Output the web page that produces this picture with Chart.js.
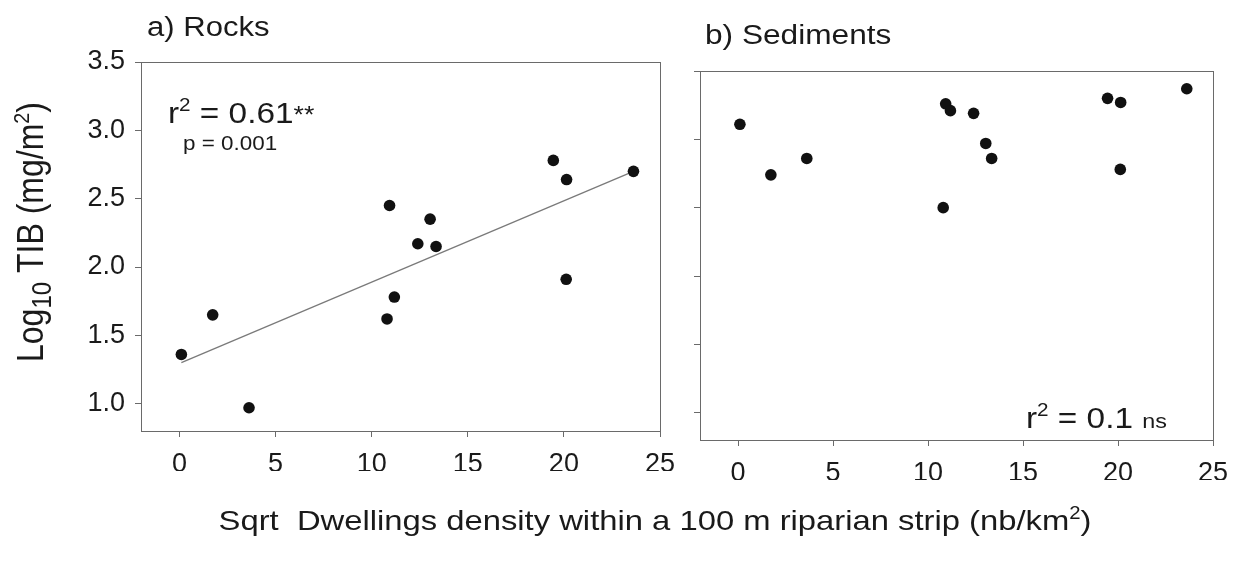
<!DOCTYPE html>
<html>
<head>
<meta charset="utf-8">
<script src="https://cdn.jsdelivr.net/npm/chart.js@4.4.1/dist/chart.umd.min.js"></script>
<style>
  html, body { margin: 0; padding: 0; background: #ffffff; }
  #wrap { position: relative; width: 1242px; height: 561px; overflow: hidden; background: #fff; }
  canvas { position: absolute; left: 0; top: 0; }
</style>
</head>
<body>
<div id="wrap">
  <canvas id="rocks" width="1242" height="561"></canvas>
  <canvas id="sediments" width="1242" height="561"></canvas>
</div>
<script>
// ---- data ----
const sqrtDwellingDensity = [0.1, 1.73, 3.62, 10.8, 10.93, 11.18, 12.4, 13.04, 13.35, 19.45, 20.12, 20.14, 23.62];
const log10TibRocks       = [1.36, 1.65, 0.97, 1.62, 2.45, 1.78, 2.17, 2.35, 2.15, 2.78, 1.91, 2.64, 2.70];
const log10TibSediments   = [3.11, 2.74, 2.86, 2.50, 3.26, 3.21, 3.19, 2.97, 2.86, 3.30, 2.78, 3.27, 3.37];
const rocksFitX = [0.1, 23.62];
const rocksFitY = [1.30, 2.70];
const xTickValues = [0, 5, 10, 15, 20, 25];
const yTickValues = [1.0, 1.5, 2.0, 2.5, 3.0, 3.5];
const xRange = [-2, 25];
const yRange = [0.8, 3.5];

const FONT = "'Liberation Sans', Arial, Helvetica, sans-serif";
const INK = '#1a1a1a';
const AXIS = '#6a6a6a';
const SX = 1.15; // horizontal stretch of the scanned lettering

Chart.defaults.font.family = FONT;
Chart.defaults.color = INK;

function pts(xs, ys) { return xs.map((x, i) => ({ x: x, y: ys[i] })); }

// draw text made of parts (normal / superscript / subscript)
function richWidth(ctx, parts, size) {
  let w = 0;
  parts.forEach(p => {
    const s = p.sup || p.sub ? size * (p.scale || 0.62) : size * (p.scale || 1);
    ctx.font = s + 'px ' + FONT;
    w += ctx.measureText(p.t).width;
  });
  return w;
}
function drawRich(ctx, parts, size, x0) {
  let x = x0;
  parts.forEach(p => {
    const s = p.sup || p.sub ? size * (p.scale || 0.62) : size * (p.scale || 1);
    ctx.font = s + 'px ' + FONT;
    let dy = 0;
    if (p.sup) dy = -size * 0.40;
    if (p.sub) dy = size * 0.22;
    ctx.fillText(p.t, x, dy);
    x += ctx.measureText(p.t).width;
  });
}
function textAt(ctx, parts, size, x, y, align) {
  ctx.save();
  ctx.fillStyle = INK;
  ctx.textBaseline = 'alphabetic';
  ctx.textAlign = 'left';
  const w = richWidth(ctx, parts, size);
  ctx.translate(x, y);
  ctx.scale(SX, 1);
  let start = 0;
  if (align === 'center') start = -w / 2;
  drawRich(ctx, parts, size, start);
  ctx.restore();
}

const framePlugin = {
  id: 'frame',
  afterDatasetsDraw(chart) {
    const { ctx, chartArea: a } = chart;
    ctx.save();
    ctx.strokeStyle = AXIS;
    ctx.lineWidth = 1;
    ctx.strokeRect(Math.round(a.left) + 0.5, Math.round(a.top) + 0.5,
                   Math.round(a.right - a.left), Math.round(a.bottom - a.top));
    ctx.restore();
  }
};

const rocksText = {
  id: 'rocksText',
  afterDraw(chart) {
    const ctx = chart.ctx;
    textAt(ctx, [{ t: 'a) Rocks' }], 27, 147, 36);
    textAt(ctx, [{ t: 'r' }, { t: '2', sup: true }, { t: ' = 0.61' }, { t: '**', scale: 0.8 }], 29, 168, 123);
    textAt(ctx, [{ t: 'p = 0.001' }], 19.5, 183, 150);
    textAt(ctx, [{ t: 'Sqrt  Dwellings density within a 100 m riparian strip (nb/km' }, { t: '2', sup: true }, { t: ')' }],
           28.5, 655, 530, 'center');
    // y axis title, rotated
    const size = 32;
    const parts = [{ t: 'Log' }, { t: '10', sub: true, scale: 0.75 }, { t: ' TIB (mg/m' }, { t: '2', sup: true }, { t: ')' }];
    ctx.save();
    ctx.fillStyle = INK;
    ctx.textBaseline = 'alphabetic';
    const w = richWidth(ctx, parts, size);
    ctx.translate(30 + size * 0.36 * SX, 232);
    ctx.rotate(-Math.PI / 2);
    ctx.scale(1, SX);
    drawRich(ctx, parts, size, -w / 2);
    ctx.restore();
  }
};

const sedText = {
  id: 'sedText',
  afterDraw(chart) {
    const ctx = chart.ctx;
    textAt(ctx, [{ t: 'b) Sediments' }], 27.5, 705, 44);
    textAt(ctx, [{ t: 'r' }, { t: '2', sup: true }, { t: ' = 0.1 ' }, { t: 'ns', scale: 0.7 }], 29, 1026, 428);
  }
};

function xScale() {
  return {
    type: 'linear',
    min: xRange[0], max: xRange[1],
    afterBuildTicks: s => { s.ticks = xTickValues.map(v => ({ value: v })); },
    afterFit: s => { s.height = 40; },
    ticks: { font: { size: 27 }, color: INK, padding: 11, maxRotation: 0, autoSkip: false,
             callback: v => String(v) },
    grid: { drawOnChartArea: false, drawTicks: true, tickLength: 6, color: AXIS, lineWidth: 1 },
    border: { display: true, color: AXIS, width: 1 }
  };
}
function yScale(showLabels, width) {
  return {
    type: 'linear',
    min: yRange[0], max: yRange[1],
    afterBuildTicks: s => { s.ticks = yTickValues.map(v => ({ value: v })); },
    afterFit: s => { s.width = width; },
    ticks: { display: showLabels, font: { size: 27 }, color: INK, padding: 10,
             callback: v => Number(v).toFixed(1) },
    grid: { drawOnChartArea: false, drawTicks: true, tickLength: 6, color: AXIS, lineWidth: 1 },
    border: { display: true, color: AXIS, width: 1 }
  };
}
const common = {
  responsive: false,
  animation: false,
  devicePixelRatio: 1,
  plugins: { legend: { display: false }, tooltip: { enabled: false }, title: { display: false } },
  events: []
};

new Chart(document.getElementById('rocks'), {
  type: 'scatter',
  data: {
    datasets: [
      { label: 'Rocks', data: pts(sqrtDwellingDensity, log10TibRocks),
        backgroundColor: '#111', borderColor: '#111', pointRadius: 5.8, borderWidth: 0 },
      { label: 'Fit', data: pts(rocksFitX, rocksFitY), showLine: true,
        borderColor: '#7a7a7a', borderWidth: 1.3, pointRadius: 0, fill: false }
    ]
  },
  options: Object.assign({}, common, {
    layout: { padding: { left: 0, top: 62, right: 1242 - 660, bottom: 561 - 431 - 40 } },
    scales: { x: xScale(), y: yScale(true, 141) }
  }),
  plugins: [framePlugin, rocksText]
});

new Chart(document.getElementById('sediments'), {
  type: 'scatter',
  data: {
    datasets: [
      { label: 'Sediments', data: pts(sqrtDwellingDensity, log10TibSediments),
        backgroundColor: '#111', borderColor: '#111', pointRadius: 5.8, borderWidth: 0 }
    ]
  },
  options: Object.assign({}, common, {
    layout: { padding: { left: 680, top: 71, right: 1242 - 1213, bottom: 561 - 440 - 40 } },
    scales: { x: xScale(), y: yScale(false, 20) }
  }),
  plugins: [framePlugin, sedText]
});
</script>
</body>
</html>
